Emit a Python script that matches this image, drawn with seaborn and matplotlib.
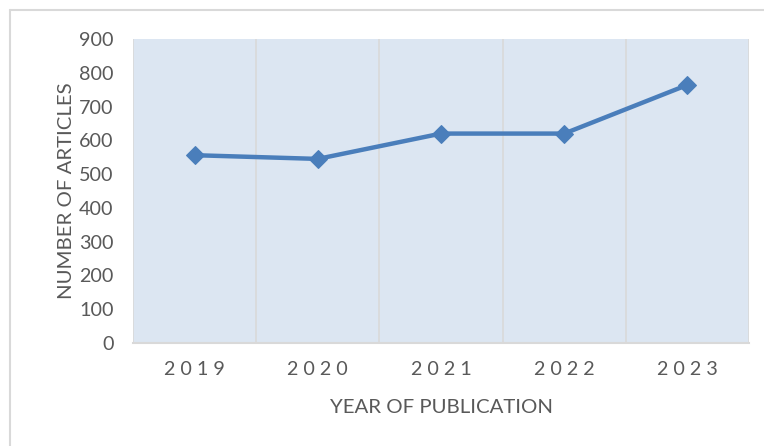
import matplotlib
matplotlib.use("Agg")
import matplotlib.pyplot as plt
import seaborn as sns
import pandas as pd
from matplotlib.lines import Line2D

years = ["2019", "2020", "2021", "2022", "2023"]
articles = [556, 545, 620, 620, 764]
y_ticks = [0, 100, 200, 300, 400, 500, 600, 700, 800, 900]
x_title = "YEAR OF PUBLICATION"
y_title = "NUMBER OF ARTICLES"

df = pd.DataFrame({"year": years, "articles": articles})

sns.set_theme(style="white")
plt.rcParams["font.family"] = ["Lato", "DejaVu Sans"]

fig = plt.figure(figsize=(7.64, 4.46), dpi=100)
ax = fig.add_axes([133 / 764, 1 - 343 / 446, (749 - 133) / 764, (343 - 39) / 446])

line_col = "#4A7EBB"
sns.lineplot(data=df, x="year", y="articles", ax=ax, color=line_col, linewidth=3.2,
             marker="D", markersize=9.5, markeredgecolor=line_col, sort=False)

ax.set_facecolor("#DCE6F2")
n = len(years)
ax.set_xlim(-0.5, n - 0.5)
ax.set_ylim(0, 900)
for b in range(n + 1):
    ax.axvline(b - 0.5, color="#D9D9D9", linewidth=1.2, zorder=0.5)

for s in ["top", "right", "left"]:
    ax.spines[s].set_visible(False)
ax.spines["bottom"].set_color("#D9D9D9")
ax.spines["bottom"].set_linewidth(1.5)

ax.set_yticks(y_ticks)
ax.set_yticklabels([str(v) for v in y_ticks])
ax.set_xticks(range(n))
ax.set_xticklabels([" ".join(y) for y in years])
ax.tick_params(axis="both", length=0, colors="#595959", labelsize=14.2)
ax.tick_params(axis="y", pad=14)
ax.tick_params(axis="x", pad=13)

ax.set_xlabel(x_title, fontsize=14.7, color="#595959", labelpad=15)
ax.set_ylabel(y_title, fontsize=14.7, color="#595959", labelpad=3)

# outer chart border (top and left visible)
fig.add_artist(Line2D([10 / 764, 10 / 764], [0, 1 - 10 / 446], color="#D9D9D9", linewidth=1.5,
                      transform=fig.transFigure))
fig.add_artist(Line2D([10 / 764, 1], [1 - 10 / 446, 1 - 10 / 446], color="#D9D9D9", linewidth=1.5,
                      transform=fig.transFigure))

fig.savefig("out.png", dpi=100, facecolor="white")
